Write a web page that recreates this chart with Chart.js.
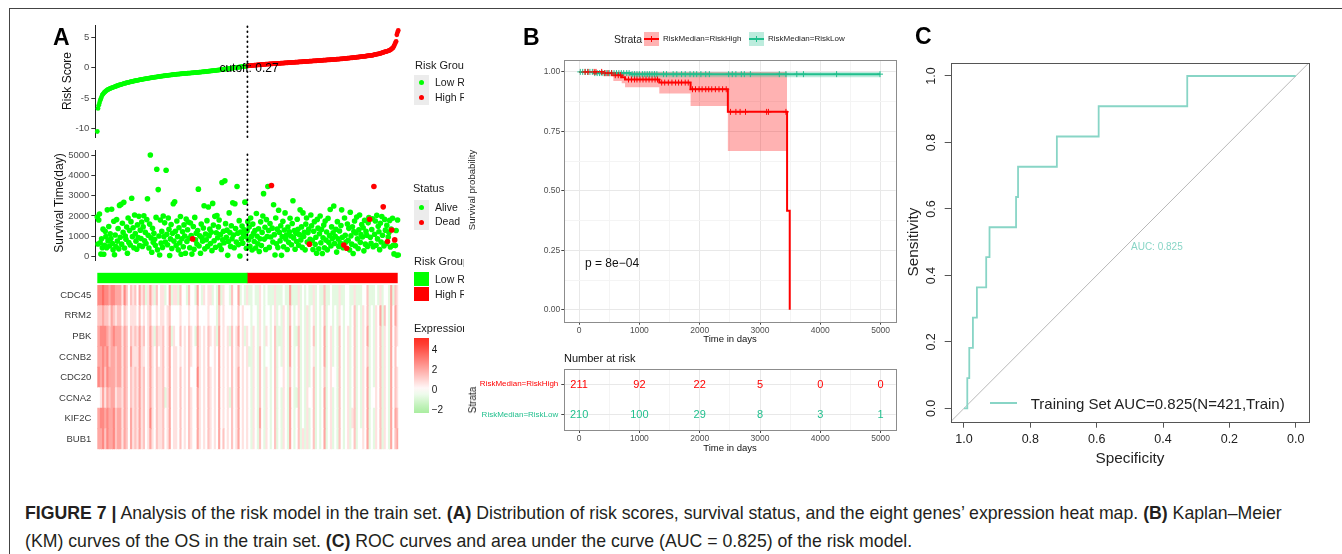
<!DOCTYPE html>
<html>
<head>
<meta charset="utf-8">
<title>Figure 7</title>
<script src="https://cdn.jsdelivr.net/npm/chart.js@4.4.1/dist/chart.umd.min.js"></script>
<style>
  html, body { margin: 0; padding: 0; background: #fff; }
  #fig { position: relative; width: 1342px; height: 554px; overflow: hidden; background: #fff;
         font-family: "Liberation Sans", Arial, Helvetica, sans-serif; color: #1a1a1a; }
  #fig canvas { position: absolute; }
  .t { position: absolute; white-space: nowrap; line-height: 1; }
  .clip { position: absolute; left: 405px; top: 0; width: 59px; height: 470px; overflow: hidden; }
  .blk { position: absolute; }
  #caption { position: absolute; left: 25px; top: 499px; font-size: 17.7px; line-height: 28px;
             white-space: nowrap; color: #231f20; }
</style>
</head>
<body>
<div id="fig">
  <div class="blk" style="left:9px;top:8px;width:1px;height:560px;background:#444"></div>
  <div class="blk" style="left:9px;top:8px;width:1340px;height:1px;background:#444"></div>
  <div id="caption"><b>FIGURE 7 |</b> Analysis of the risk model in the train set. <b>(A)</b> Distribution of risk scores, survival status, and the eight genes’ expression heat map. <b>(B)</b> Kaplan–Meier<br>(KM) curves of the OS in the train set. <b>(C)</b> ROC curves and area under the curve (AUC = 0.825) of the risk model.</div>
</div>
<script>
// ---------- panel A: risk score per sample (sorted) ----------
const riskScore = [
  -10.5, -6.7, -6.2, -5.8, -5.4, -5.1, -4.8, -4.5, -4.35, -4.2,
  -4.05, -3.95, -3.85, -3.75, -3.66, -3.6, -3.54, -3.48, -3.43, -3.38,
  -3.33, -3.28, -3.24, -3.2, -3.15, -3.1, -3.06, -3.02, -2.98, -2.93,
  -2.89, -2.85, -2.82, -2.78, -2.74, -2.7, -2.67, -2.63, -2.6, -2.56,
  -2.53, -2.5, -2.47, -2.44, -2.41, -2.38, -2.35, -2.32, -2.29, -2.27,
  -2.24, -2.21, -2.19, -2.16, -2.14, -2.11, -2.09, -2.06, -2.04, -2.01,
  -1.99, -1.97, -1.95, -1.93, -1.9, -1.88, -1.86, -1.84, -1.82, -1.8,
  -1.78, -1.76, -1.74, -1.72, -1.7, -1.68, -1.66, -1.64, -1.62, -1.6,
  -1.58, -1.56, -1.55, -1.53, -1.51, -1.49, -1.47, -1.46, -1.44, -1.42,
  -1.41, -1.39, -1.37, -1.36, -1.34, -1.32, -1.31, -1.29, -1.28, -1.26,
  -1.25, -1.23, -1.22, -1.2, -1.19, -1.17, -1.16, -1.15, -1.13, -1.12,
  -1.11, -1.09, -1.08, -1.07, -1.06, -1.05, -1.03, -1.02, -1.01, -1.0,
  -0.99, -0.98, -0.97, -0.96, -0.95, -0.94, -0.93, -0.92, -0.91, -0.9,
  -0.89, -0.88, -0.87, -0.86, -0.85, -0.84, -0.83, -0.82, -0.81, -0.8,
  -0.79, -0.77, -0.76, -0.75, -0.74, -0.73, -0.71, -0.7, -0.69, -0.68,
  -0.66, -0.65, -0.64, -0.63, -0.61, -0.6, -0.59, -0.57, -0.56, -0.55,
  -0.53, -0.52, -0.5, -0.49, -0.48, -0.46, -0.45, -0.43, -0.42, -0.4,
  -0.39, -0.37, -0.36, -0.34, -0.33, -0.31, -0.3, -0.28, -0.26, -0.25,
  -0.23, -0.22, -0.2, -0.19, -0.17, -0.15, -0.14, -0.12, -0.1, -0.09,
  -0.07, -0.05, -0.04, -0.02, 0.0, 0.02, 0.04, 0.06, 0.08, 0.1,
  0.11, 0.13, 0.15, 0.16, 0.18, 0.19, 0.21, 0.22, 0.24, 0.26,
  0.28, 0.3, 0.31, 0.32, 0.34, 0.35, 0.36, 0.37, 0.38, 0.39,
  0.4, 0.41, 0.42, 0.43, 0.44, 0.45, 0.46, 0.47, 0.48, 0.5,
  0.51, 0.51, 0.52, 0.53, 0.54, 0.55, 0.56, 0.57, 0.57, 0.58,
  0.59, 0.6, 0.61, 0.61, 0.62, 0.63, 0.64, 0.65, 0.65, 0.66,
  0.67, 0.68, 0.69, 0.69, 0.7, 0.71, 0.72, 0.73, 0.73, 0.74,
  0.75, 0.76, 0.77, 0.77, 0.78, 0.79, 0.8, 0.81, 0.81, 0.82,
  0.83, 0.84, 0.85, 0.86, 0.86, 0.87, 0.88, 0.89, 0.9, 0.9,
  0.91, 0.92, 0.93, 0.94, 0.95, 0.95, 0.96, 0.97, 0.98, 0.99,
  1.0, 1.0, 1.01, 1.02, 1.03, 1.04, 1.05, 1.05, 1.06, 1.07,
  1.08, 1.09, 1.1, 1.1, 1.11, 1.12, 1.13, 1.14, 1.14, 1.15,
  1.16, 1.17, 1.18, 1.19, 1.2, 1.21, 1.22, 1.22, 1.23, 1.24,
  1.25, 1.26, 1.27, 1.28, 1.28, 1.29, 1.3, 1.31, 1.31, 1.32,
  1.33, 1.34, 1.35, 1.36, 1.37, 1.38, 1.39, 1.4, 1.41, 1.42,
  1.43, 1.44, 1.45, 1.46, 1.47, 1.48, 1.5, 1.51, 1.52, 1.54,
  1.55, 1.56, 1.57, 1.59, 1.6, 1.61, 1.62, 1.64, 1.65, 1.66,
  1.68, 1.69, 1.7, 1.72, 1.73, 1.74, 1.76, 1.77, 1.79, 1.8,
  1.81, 1.83, 1.84, 1.86, 1.87, 1.89, 1.91, 1.93, 1.95, 1.96,
  1.97, 1.99, 2.01, 2.02, 2.03, 2.06, 2.09, 2.12, 2.15, 2.18,
  2.2, 2.22, 2.24, 2.27, 2.3, 2.33, 2.37, 2.41, 2.45, 2.49,
  2.53, 2.57, 2.61, 2.64, 2.67, 2.71, 2.75, 2.8, 2.85, 2.9,
  3.0, 3.1, 3.2, 3.3, 3.55, 3.8, 4.1, 4.3, 5.4, 5.8, 6.1
];
// survival time (days) for the same samples, same order
const survTime = [
  1950, 620, 1800, 2100, 680, 120, 880, 430, 1350, 110,
  560, 1250, 980, 430, 2300, 770, 1480, 520, 1120, 890,
  2330, 640, 330, 1740, 90, 1060, 490, 1820, 760, 1380,
  380, 2520, 950, 2570, 610, 1640, 1190, 2670, 420, 1010,
  850, 1450, 160, 1900, 690, 1280, 570, 1720, 2870, 980,
  1420, 430, 2050, 1130, 760, 360, 1560, 940, 1980, 540,
  1300, 890, 1700, 500, 1460, 2010, 780, 1190, 640, 1820,
  2850, 1050, 420, 1600, 5000, 920, 210, 1390, 700, 1150,
  850, 560, 1930, 4300, 330, 3300, 1010, 80, 1800, 660,
  1240, 450, 2000, 980, 1660, 720, 4250, 1100, 580, 1900,
  1340, 50, 870, 1580, 400, 1150, 2600, 760, 2700, 1250,
  540, 1750, 980, 330, 1420, 680, 1970, 110, 880, 1220,
  480, 1560, 1010, 160, 1850, 740, 1320, 1700, 900, 430,
  1650, 1040, 120, 870, 1480, 360, 1930, 820, 1150, 620,
  1280, 3320, 520, 1020, 160, 1600, 930, 760, 1410, 2500,
  380, 1110, 830, 1770, 500, 2440, 1030, 1350, 640, 1200,
  290, 2620, 1550, 780, 1980, 460, 1170, 2020, 930, 1460,
  1800, 550, 1080, 350, 3650, 820, 1250, 680, 3730, 1620,
  950, 1300, 60, 740, 2150, 1180, 500, 1520, 880, 2650,
  1060, 430, 2600, 1380, 720, 3450, 1150, 590, 1770, 30,
  1210, 870, 1500, 660, 1090, 1320, 2680, 980, 410, 1260,
  1720, 820, 1450, 510, 1900, 980, 320, 1600, 1150, 740,
  1280, 420, 2120, 1000, 630, 1370, 250, 880, 1710, 540,
  1190, 2000, 3100, 860, 1440, 350, 1820, 980, 3450, 1280,
  450, 1630, 960, 3500, 1400, 720, 2550, 1080, 80, 1900,
  630, 1350, 440, 2280, 1190, 770, 1520, 60, 990, 1740,
  480, 1310, 2150, 870, 1060, 350, 1450, 700, 1220, 1890,
  1010, 580, 1630, 2750, 920, 1280, 360, 1150, 740, 1840,
  1340, 560, 1080, 2300, 820, 1460, 450, 2150, 990, 1200,
  330, 1600, 1900, 720, 1180, 1350, 610, 850, 2050, 1520,
  790, 350, 1250, 1720, 600, 950, 160, 1830, 1400, 380,
  1120, 2000, 680, 1330, 150, 930, 1550, 430, 1750, 810,
  1210, 330, 1880, 700, 1030, 2320, 520, 1460, 890, 1170,
  2490, 640, 1000, 1340, 220, 1720, 870, 500, 1260, 680,
  1530, 2300, 950, 430, 570, 1900, 1050, 720, 410, 1600,
  800, 1390, 330, 2180, 1020, 610, 1470, 150, 1230, 1750,
  520, 1160, 1950, 880, 400, 1320, 2050, 700, 1080, 1580,
  960, 1420, 280, 1790, 610, 1240, 1050, 500, 1660, 1920,
  1840, 950, 650, 1330, 1860, 480, 3450, 1100, 1750, 560,
  2030, 870, 1490, 1220, 340, 1640, 720, 1970, 1050, 2450,
  520, 1830, 1300, 640, 1540, 740, 960, 1180, 1780, 470,
  1350, 1310, 1890, 560, 130, 820, 540, 1280, 60, 1800, 80
];
const deadSamples = [134, 244, 297, 345, 349, 381, 387, 400, 406, 412, 416]; // 1-based
const groupSizes = [210, 211];          // low risk, high risk
const cutoffValue = 0.27;
const riskTicks = [-10, -5, 0, 5];
const survTicks = [0, 1000, 2000, 3000, 4000, 5000];

// heat map: one character per column (each column = 3 samples), level index into levelValue
const genes = ['CDC45', 'RRM2', 'PBK', 'CCNB2', 'CDC20', 'CCNA2', 'KIF2C', 'BUB1'];
const levelValue = [-2.1, -1.4, -0.7, 0, 0.7, 1.4, 2.1, 2.8, 3.5, 4.2];
const exprRows = [
  '7787767766 6475354536 4524642534 4236244253 3253326324 3442326243 3253362324 2232243232 2242223226 2224232322 4232252232 2242233224 2223352223 2423326254',
  '5565546545 5354344435 3434533434 4345333343 3343335333 3433325343 3343353433 3233243233 2342324325 3234232423 4232352332 3243233235 2324352324 3625326364',
  '6777656766 6465354546 4534642544 5346243353 4354326434 3543426343 4253463424 3243243243 2352224326 3225232423 5232362342 3253234235 2324362324 3524326354',
  '6676756656 6465364446 4434643534 5346344343 4354336434 3533436343 4353453434 2243253233 2352324326 3235232423 4232362342 3253234235 2324352324 3524326353',
  '7675766656 6465354546 4534643544 5346344353 4353337434 3543436343 4353463434 3243253243 2352334325 3235232423 5232352343 3253234235 2324362324 3524326354',
  '3464656645 5465354546 4534643544 5246344353 4354336434 3543436343 4253463434 3243253243 2352324326 3225232433 5232362342 3253234235 2324362334 3524326354',
  '6776766756 6465364546 4534743544 5346344353 4354336434 3543436343 4353463434 3243263243 2352324326 3235232423 5232362342 3253234245 2324362324 3524326365',
  '6675766756 6465364546 4534643544 5346344353 4354336434 3543436353 4353463434 3243253243 2352324326 3235242423 5232362342 3253234235 2334362324 3524326356'
];

// ---------- panel B: Kaplan-Meier ----------
const kmXTicks = [0, 1000, 2000, 3000, 4000, 5000];
const kmXMinor = [500, 1500, 2500, 3500, 4500];
const kmYTicks = [0, 0.25, 0.5, 0.75, 1];
const kmYMinor = [0.125, 0.375, 0.625, 0.875];
const highTimes = [0, 403, 568, 707, 762, 1330, 1849, 2467, 3449, 3493];
const highSurv  = [1, 0.995, 0.986, 0.978, 0.968, 0.955, 0.927, 0.832, 0.416, 0];
const highBandTimes = [0, 403, 568, 707, 762, 1330, 1849, 2467, 3449];
const highBandLower = [1, 0.982, 0.962, 0.952, 0.935, 0.909, 0.857, 0.667, 0.667];
const highBandUpper = [1, 1, 1, 1, 1, 1, 1, 1, 1];
const lowTimes = [0, 250, 850, 4990];
const lowSurv  = [1, 0.995, 0.9905, 0.9905];
const lowLower = [1, 0.986, 0.977, 0.977];
const lowUpper = [1, 1, 1, 1];
const highCensor = [100, 150, 250, 280, 375, 430, 480, 540, 600, 650, 690, 820, 870, 920, 960, 1010, 1060,
  1110, 1160, 1210, 1260, 1300, 1370, 1420, 1480, 1540, 1600, 1650, 1700, 1760, 1810, 1880, 1930, 1990,
  2040, 2100, 2150, 2200, 2260, 2320, 2380, 2440, 2510, 2600, 2670, 2760, 3110, 3140, 3430];
const lowCensor = [20, 60, 100, 140, 180, 220, 260, 300, 340, 380, 420, 460, 500, 540, 580, 620, 660, 700,
  740, 790, 830, 880, 920, 960, 1000, 1050, 1090, 1130, 1170, 1210, 1250, 1290, 1400, 1450, 1560, 1620,
  1700, 1760, 1840, 1900, 1950, 2020, 2100, 2160, 2480, 2540, 2600, 2690, 2740, 2840, 3320, 3430, 3610,
  3720, 4270, 4990];
const strata = ['RiskMedian=RiskHigh', 'RiskMedian=RiskLow'];
const riskTimes = [0, 1000, 2000, 3000, 4000, 5000];
const atRiskHigh = [211, 92, 22, 5, 0, 0];
const atRiskLow = [210, 100, 29, 8, 3, 1];

// ---------- panel C: ROC ----------
const rocSpec = [1, 0.99, 0.984, 0.973, 0.961, 0.933, 0.923, 0.843, 0.837, 0.72, 0.594, 0.327, 0];
const rocSens = [0, 0.091, 0.182, 0.273, 0.364, 0.455, 0.545, 0.636, 0.727, 0.818, 0.909, 1, 1];
const rocTicks = [0, 0.2, 0.4, 0.6, 0.8, 1.0];

// ---------- colours ----------
const GREEN = '#00ff00', RED = '#ff0000';
const KM_GREEN = '#20bf8d', TEAL = '#88d5c6';

Chart.defaults.font.family = '"Liberation Sans", Arial, Helvetica, sans-serif';
Chart.defaults.animation = false;
Chart.defaults.responsive = false;
Chart.defaults.events = [];
Chart.defaults.plugins.legend.display = false;
Chart.defaults.plugins.tooltip.enabled = false;

const fig = document.getElementById('fig');

function addCanvas(r) {
  const c = document.createElement('canvas');
  c.width = r.w; c.height = r.h;
  c.style.left = r.x + 'px'; c.style.top = r.y + 'px';
  c.style.width = r.w + 'px'; c.style.height = r.h + 'px';
  fig.appendChild(c);
  return c;
}
function pads(r, a) {
  return { left: a.l - r.x, top: a.t - r.y, right: r.x + r.w - a.r, bottom: r.y + r.h - a.b };
}
function txt(str, x, y, o = {}) {
  const d = document.createElement('div');
  d.className = 't';
  d.textContent = str;
  d.style.left = x + 'px'; d.style.top = y + 'px';
  d.style.fontSize = (o.size || 12) + 'px';
  if (o.bold) d.style.fontWeight = 'bold';
  if (o.color) d.style.color = o.color;
  const ax = o.rotate || o.align === 'center' ? '-50%' : o.align === 'right' ? '-100%' : '0';
  d.style.transform = `translate(${ax}, -50%)` + (o.rotate ? ' rotate(-90deg)' : '');
  (o.parent || fig).appendChild(d);
  return d;
}
function blk(parent, x, y, w, h, css) {
  const d = document.createElement('div');
  d.className = 'blk';
  d.style.cssText += `left:${x}px;top:${y}px;width:${w}px;height:${h}px;` + css;
  parent.appendChild(d);
  return d;
}
const fixedTicks = vals => scale => { scale.ticks = vals.map(v => ({ value: v })); };
const framePlugin = (color, width) => ({
  id: 'panelFrame',
  afterDatasetsDraw(chart) {
    const a = chart.chartArea, ctx = chart.ctx;
    ctx.save();
    ctx.strokeStyle = color; ctx.lineWidth = width;
    const l = Math.round(a.left) + 0.5, t = Math.round(a.top) + 0.5;
    ctx.strokeRect(l, t, Math.round(a.right) - Math.round(a.left), Math.round(a.bottom) - Math.round(a.top));
    ctx.restore();
  }
});

// ================= Panel A =================
const IDX_MIN = -1.8, IDX_MAX = 423.4;
const cutX = groupSizes[0] + 0.5;
const samplePts = vals => vals.map((v, i) => ({ x: i + 1, y: v }));
const riskPts = samplePts(riskScore);
const lowRiskPts = riskPts.slice(0, groupSizes[0]);
const highRiskPts = riskPts.slice(groupSizes[0]);
const survPts = samplePts(survTime);
const alivePts = survPts.filter(p => !deadSamples.includes(p.x));
const deadPts = survPts.filter(p => deadSamples.includes(p.x));

function cutoffDataset(ymin, ymax) {
  return { data: [{ x: cutX, y: ymin }, { x: cutX, y: ymax }], showLine: true, borderColor: '#000',
           borderWidth: 1.8, borderDash: [0.5, 4.5], borderCapStyle: 'round', pointRadius: 0, clip: false, order: 0 };
}
function leftAxis(p, min, max, ticks) {
  return { min, max, afterBuildTicks: fixedTicks(ticks), afterFit: s => { s.width = p.left; },
           grid: { drawOnChartArea: false, tickLength: 4, color: '#333' },
           border: { color: '#222', width: 1 },
           ticks: { font: { size: 9.5 }, color: '#4d4d4d', padding: 2, autoSkip: false, callback: v => String(v) } };
}

// risk score
const riskRect = { x: 30, y: 5, w: 380, h: 150 };
const riskArea = { l: 95.3, t: 25, r: 400, b: 137 };
const pRisk = pads(riskRect, riskArea);
new Chart(addCanvas(riskRect), {
  type: 'scatter',
  data: { datasets: [
    cutoffDataset(-11.4, 7.0),
    { data: highRiskPts, backgroundColor: RED, pointRadius: 2.4, borderWidth: 0, clip: false, order: 1 },
    { data: lowRiskPts, backgroundColor: GREEN, pointRadius: 2.4, borderWidth: 0, clip: false, order: 2 }
  ] },
  options: {
    layout: { padding: { left: 0, top: pRisk.top, right: pRisk.right, bottom: pRisk.bottom } },
    scales: {
      x: { type: 'linear', display: false, min: IDX_MIN, max: IDX_MAX },
      y: leftAxis(pRisk, -11.4, 7.0, riskTicks)
    }
  }
});

// survival time
const survRect = { x: 30, y: 130, w: 380, h: 150 };
const survArea = { l: 95.3, t: 150, r: 400, b: 260 };
const pSurv = pads(survRect, survArea);
new Chart(addCanvas(survRect), {
  type: 'scatter',
  data: { datasets: [
    cutoffDataset(-170, 5250),
    { data: deadPts, backgroundColor: RED, pointRadius: 2.8, borderWidth: 0, clip: false, order: 1 },
    { data: alivePts, backgroundColor: GREEN, pointRadius: 2.8, borderWidth: 0, clip: false, order: 2 }
  ] },
  options: {
    layout: { padding: { left: 0, top: pSurv.top, right: pSurv.right, bottom: pSurv.bottom } },
    scales: {
      x: { type: 'linear', display: false, min: IDX_MIN, max: IDX_MAX },
      y: leftAxis(pSurv, -170, 5250, survTicks)
    }
  }
});

// risk group annotation bar
const groupRect = { x: 90, y: 268, w: 320, h: 20 };
const groupArea = { l: 97.3, t: 272.7, r: 397.7, b: 283.3 };
new Chart(addCanvas(groupRect), {
  type: 'bar',
  data: { labels: [''], datasets: [
    { data: [groupSizes[0]], backgroundColor: GREEN },
    { data: [groupSizes[1]], backgroundColor: RED }
  ] },
  options: {
    indexAxis: 'y',
    layout: { padding: pads(groupRect, groupArea) },
    datasets: { bar: { barPercentage: 1, categoryPercentage: 1, borderWidth: 0, inflateAmount: 0.4 } },
    scales: {
      x: { stacked: true, display: false, min: 0, max: groupSizes[0] + groupSizes[1] },
      y: { stacked: true, display: false }
    }
  }
});

// heat map
function exprColor(v) {
  if (v >= 0) {
    const t = Math.min(v / 5, 1);
    return `rgb(255,${Math.round(255 - 210 * t)},${Math.round(255 - 222 * t)})`;
  }
  const t = Math.min(-v / 2.2, 1);
  return `rgb(${Math.round(255 - 85 * t)},${Math.round(255 - 18 * t)},${Math.round(255 - 95 * t)})`;
}
const exprMatrix = exprRows.map(r => r.replace(/ /g, '').split('').map(c => levelValue[+c]));
const nCols = exprMatrix[0].length;
const heatSets = [];
for (let c = 0; c < nCols; c++) {
  heatSets.push({ data: genes.map(() => 1), backgroundColor: exprMatrix.map(row => exprColor(row[c] ?? 0)) });
}
const heatRect = { x: 30, y: 265, w: 380, h: 205 };
const heatArea = { l: 97.3, t: 285, r: 398.3, b: 449.3 };
const pHeat = pads(heatRect, heatArea);
new Chart(addCanvas(heatRect), {
  type: 'bar',
  data: { labels: genes, datasets: heatSets },
  options: {
    indexAxis: 'y',
    layout: { padding: { left: 0, top: pHeat.top, right: pHeat.right, bottom: pHeat.bottom } },
    datasets: { bar: { barPercentage: 1, categoryPercentage: 1, borderWidth: 0, inflateAmount: 0.4 } },
    scales: {
      x: { stacked: true, display: false, min: 0, max: nCols },
      y: { stacked: true, afterFit: s => { s.width = pHeat.left; },
           grid: { display: false, drawTicks: false }, border: { display: false },
           ticks: { font: { size: 9.5 }, color: '#3a3a3a', padding: 6 } }
    }
  }
});

// panel A texts and legends
txt('A', 53, 36.5, { size: 23, bold: true, color: '#000' });
txt('Risk Score', 67, 81, { size: 12, rotate: true, color: '#111' });
txt('Survival Time(day)', 59, 203, { size: 12, rotate: true, color: '#111' });
txt('cutoff: ' + cutoffValue, 249, 67.5, { size: 12, align: 'center', color: '#000' });

const clip = document.createElement('div');
clip.className = 'clip';
fig.appendChild(clip);
const cx = x => x - 405;
function dotKey(y0, dots) {
  blk(clip, cx(414), y0, 15, 15, 'background:#ececec');
  blk(clip, cx(414), y0 + 15, 15, 15, 'background:#ececec');
  dots.forEach((col, i) => blk(clip, cx(419.2), y0 + 5 + i * 15, 5, 5, `background:${col};border-radius:50%`));
}
txt('Risk Group', cx(415), 65, { size: 11, parent: clip });
dotKey(75, [GREEN, RED]);
txt('Low Risk', cx(435), 82.3, { size: 10.5, parent: clip });
txt('High Risk', cx(435), 97.3, { size: 10.5, parent: clip });

txt('Status', cx(413), 188, { size: 11, parent: clip });
dotKey(199.5, [GREEN, RED]);
txt('Alive', cx(435), 206.7, { size: 10.5, parent: clip });
txt('Dead', cx(435), 220.7, { size: 10.5, parent: clip });

txt('Risk Group', cx(414), 261, { size: 11, parent: clip });
blk(clip, cx(414), 271.7, 15, 14.5, `background:${GREEN}`);
blk(clip, cx(414), 286.7, 15, 14, `background:${RED}`);
txt('Low Risk', cx(435), 279, { size: 10.5, parent: clip });
txt('High Risk', cx(435), 293.7, { size: 10.5, parent: clip });

txt('Expression', cx(414), 327.7, { size: 11, parent: clip });
const gTop = 5.23, gBot = -2.33, gStops = [];
for (let v = gTop; v >= gBot - 0.001; v -= (gTop - gBot) / 12) {
  gStops.push(`${exprColor(v)} ${((gTop - v) / (gTop - gBot) * 100).toFixed(1)}%`);
}
blk(clip, cx(414), 337.7, 15, 75.6, `background:linear-gradient(to bottom, ${gStops.join(',')})`);
[[4, '4'], [2, '2'], [0, '0'], [-2, '−2']].forEach(([v, s]) =>
  txt(s, cx(431.7), 337.7 + (gTop - v) / (gTop - gBot) * 75.6, { size: 10, parent: clip }));

// ================= Panel B =================
function survAt(times, surv, t) {
  let s = surv[0];
  for (let i = 0; i < times.length; i++) if (times[i] <= t) s = surv[i];
  return s;
}
const stepPts = (ts, vs) => ts.map((t, i) => ({ x: t, y: vs[i] }));
const isMinor = (list, v) => list.some(m => Math.abs(m - v) < 1e-9);

function kmXAxis(p) {
  return { type: 'linear', min: -245, max: 5250,
    afterBuildTicks: fixedTicks([...kmXTicks, ...kmXMinor].sort((a, b) => a - b)),
    afterFit: s => { s.height = p.bottom; },
    grid: { color: c => isMinor(kmXMinor, c.tick.value) ? '#f4f4f4' : '#e8e8e8', tickLength: 3,
            tickColor: c => isMinor(kmXMinor, c.tick.value) ? 'rgba(0,0,0,0)' : '#444' },
    border: { display: false },
    ticks: { autoSkip: false, maxRotation: 0, font: { size: 8.5 }, color: '#4d4d4d', padding: 1,
             callback: v => isMinor(kmXMinor, v) ? '' : String(v) } };
}

const kmRect = { x: 480, y: 40, w: 430, h: 310 };
const kmArea = { l: 564.3, t: 60, r: 895.7, b: 321.7 };
const pKm = pads(kmRect, kmArea);
const bandLine = { showLine: true, stepped: true, borderWidth: 0, borderColor: 'rgba(0,0,0,0)', pointRadius: 0 };
new Chart(addCanvas(kmRect), {
  type: 'scatter',
  data: { datasets: [
    { data: highCensor.map(t => ({ x: t, y: survAt(highTimes, highSurv, t) })), pointStyle: 'cross',
      pointRadius: 3, borderColor: RED, pointBorderWidth: 1, showLine: false, order: 0 },
    { data: lowCensor.map(t => ({ x: t, y: survAt(lowTimes, lowSurv, t) })), pointStyle: 'cross',
      pointRadius: 3, borderColor: KM_GREEN, pointBorderWidth: 1, showLine: false, order: 0 },
    { data: stepPts(highTimes, highSurv), showLine: true, stepped: true, borderColor: RED, borderWidth: 2, pointRadius: 0, order: 1 },
    { data: stepPts(lowTimes, lowSurv), showLine: true, stepped: true, borderColor: KM_GREEN, borderWidth: 2, pointRadius: 0, order: 2 },
    { ...bandLine, data: stepPts(highBandTimes, highBandLower), fill: false, order: 6 },
    { ...bandLine, data: stepPts(highBandTimes, highBandUpper), fill: '-1', backgroundColor: 'rgba(255,0,0,0.3)', order: 6 },
    { ...bandLine, data: stepPts(lowTimes, lowLower), fill: false, order: 5 },
    { ...bandLine, data: stepPts(lowTimes, lowUpper), fill: '-1', backgroundColor: 'rgba(32,191,141,0.3)', order: 5 }
  ] },
  options: {
    layout: { padding: { left: 0, top: pKm.top, right: pKm.right, bottom: 0 } },
    scales: {
      x: kmXAxis(pKm),
      y: { min: -0.05, max: 1.05,
           afterBuildTicks: fixedTicks([...kmYTicks, ...kmYMinor].sort((a, b) => a - b)),
           afterFit: s => { s.width = pKm.left; },
           grid: { color: c => isMinor(kmYMinor, c.tick.value) ? '#f4f4f4' : '#e8e8e8', tickLength: 3,
                   tickColor: c => isMinor(kmYMinor, c.tick.value) ? 'rgba(0,0,0,0)' : '#444' },
           border: { display: false },
           ticks: { autoSkip: false, font: { size: 8.5 }, color: '#4d4d4d', padding: 1,
                    callback: v => isMinor(kmYMinor, v) ? '' : v.toFixed(2) } }
    }
  },
  plugins: [framePlugin('#8c8c8c', 1)]
});

// number at risk table
const tableNumbers = {
  id: 'tableNumbers',
  afterDatasetsDraw(chart) {
    const ctx = chart.ctx;
    ctx.save();
    ctx.font = '11px "Liberation Sans", Arial, sans-serif';
    ctx.textAlign = 'center'; ctx.textBaseline = 'middle';
    chart.data.datasets.forEach((ds, di) => {
      ctx.fillStyle = ds.textColor;
      chart.getDatasetMeta(di).data.forEach((pt, i) => ctx.fillText(String(ds.counts[i]), pt.x, pt.y + 0.5));
    });
    ctx.restore();
  }
};
const tabRect = { x: 470, y: 355, w: 440, h: 95 };
const tabArea = { l: 564.3, t: 369, r: 895.7, b: 430 };
const pTab = pads(tabRect, tabArea);
new Chart(addCanvas(tabRect), {
  type: 'scatter',
  data: { datasets: [
    { data: riskTimes.map(t => ({ x: t, y: strata[0] })), counts: atRiskHigh, textColor: RED, pointRadius: 0 },
    { data: riskTimes.map(t => ({ x: t, y: strata[1] })), counts: atRiskLow, textColor: KM_GREEN, pointRadius: 0 }
  ] },
  options: {
    layout: { padding: { left: 0, top: pTab.top, right: pTab.right, bottom: 0 } },
    scales: {
      x: kmXAxis(pTab),
      y: { type: 'category', labels: strata, offset: true, afterFit: s => { s.width = pTab.left; },
           grid: { color: '#e8e8e8', tickLength: 3, tickColor: '#444' }, border: { display: false },
           ticks: { font: { size: 8 }, padding: 3, color: c => c.index === 0 ? RED : KM_GREEN } }
    }
  },
  plugins: [tableNumbers, framePlugin('#8c8c8c', 1)]
});

// panel B texts
txt('B', 523, 36.5, { size: 23, bold: true, color: '#000' });
txt('Strata', 614, 39, { size: 10.5, color: '#222' });
function strataKey(x, col, fillCol) {
  blk(fig, x, 32, 15, 14, `background:${fillCol}`);
  blk(fig, x, 38.2, 15, 1.7, `background:${col}`);
  blk(fig, x + 7, 36, 1, 6, `background:${col}`);
}
strataKey(644, RED, 'rgba(255,0,0,0.3)');
txt(strata[0], 663, 39, { size: 8, color: '#222' });
strataKey(749, KM_GREEN, 'rgba(32,191,141,0.3)');
txt(strata[1], 768, 39, { size: 8, color: '#222' });
txt('Survival probability', 472, 190, { size: 9.6, rotate: true, color: '#222' });
txt('p = 8e−04', 585, 263.3, { size: 12, color: '#111' });
txt('Time in days', 730, 339, { size: 9.5, align: 'center', color: '#111' });
txt('Number at risk', 564, 358.3, { size: 11, color: '#111' });
txt('Strata', 473, 400, { size: 10, rotate: true, color: '#222' });
txt('Time in days', 730, 448.3, { size: 9.5, align: 'center', color: '#111' });

// ================= Panel C =================
const rocYLabels = {
  id: 'rocYLabels',
  afterDraw(chart) {
    const ctx = chart.ctx, y = chart.scales.y;
    ctx.save();
    ctx.font = '12.5px "Liberation Sans", Arial, sans-serif';
    ctx.fillStyle = '#222'; ctx.textAlign = 'center'; ctx.textBaseline = 'middle';
    rocTicks.forEach(v => {
      ctx.save();
      ctx.translate(chart.chartArea.left - 18.7, y.getPixelForValue(v));
      ctx.rotate(-Math.PI / 2);
      ctx.fillText(v.toFixed(1), 0, 0);
      ctx.restore();
    });
    ctx.restore();
  }
};
const ROC_MIN = -0.04, ROC_MAX = 1.04;
const rocRect = { x: 900, y: 40, w: 430, h: 420 };
const rocArea = { l: 950.7, t: 62.7, r: 1309, b: 421.7 };
const pRoc = pads(rocRect, rocArea);
new Chart(addCanvas(rocRect), {
  type: 'scatter',
  data: { datasets: [
    { data: rocSpec.map((s, i) => ({ x: s, y: rocSens[i] })), showLine: true, stepped: true,
      borderColor: TEAL, borderWidth: 1.8, pointRadius: 0, order: 0 },
    { data: [{ x: ROC_MAX, y: ROC_MIN }, { x: ROC_MIN, y: ROC_MAX }], showLine: true,
      borderColor: '#b8b8b8', borderWidth: 1, pointRadius: 0, order: 1 }
  ] },
  options: {
    layout: { padding: { left: 0, top: pRoc.top, right: pRoc.right, bottom: 0 } },
    scales: {
      x: { type: 'linear', reverse: true, min: ROC_MIN, max: ROC_MAX, afterBuildTicks: fixedTicks(rocTicks),
           afterFit: s => { s.height = pRoc.bottom; },
           grid: { drawOnChartArea: false, tickLength: 6, color: '#555' }, border: { display: false },
           ticks: { autoSkip: false, maxRotation: 0, font: { size: 12.5 }, color: '#222', padding: 4,
                    callback: v => v.toFixed(1) } },
      y: { min: ROC_MIN, max: ROC_MAX, afterBuildTicks: fixedTicks(rocTicks),
           afterFit: s => { s.width = pRoc.left; },
           grid: { drawOnChartArea: false, tickLength: 6, color: '#555' }, border: { display: false },
           ticks: { display: false } }
    }
  },
  plugins: [rocYLabels, framePlugin('#555', 1)]
});

txt('C', 915, 36, { size: 23, bold: true, color: '#000' });
txt('Sensitivity', 912.5, 242, { size: 15.3, rotate: true, color: '#222' });
txt('Specificity', 1130, 458, { size: 15.3, align: 'center', color: '#222' });
txt('AUC: 0.825', 1131, 246.7, { size: 10, color: TEAL });
blk(fig, 990, 401.7, 27, 2, `background:${TEAL}`);
txt('Training Set AUC=0.825(N=421,Train)', 1030.7, 402.7, { size: 15, color: '#222' });
</script>
</body>
</html>
